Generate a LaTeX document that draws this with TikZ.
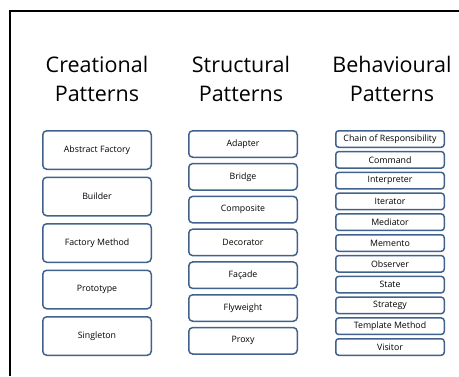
\documentclass[tikz,border=0pt]{standalone}
\usepackage{fontspec}
\setmainfont{Open Sans}
\usetikzlibrary{positioning}
\definecolor{boxblue}{RGB}{65,98,140}

\begin{document}
\begin{tikzpicture}[
      x=1pt, y=-1pt,
      title/.style={align=center, font=\fontsize{21.5}{29}\selectfont, inner sep=0pt},
      pattern/.style={draw=boxblue, line width=1.5pt, rounded corners=4pt, fill=white,
        minimum width=108.5pt, inner sep=0pt, font=\fontsize{8.8}{10}\selectfont},
      creational/.style={pattern, minimum height=38.5pt},
      structural/.style={pattern, minimum height=26.5pt},
      behavioural/.style={pattern, minimum height=16.5pt, rounded corners=3pt},
    ]
      \useasboundingbox (0,0) rectangle (459,376);
      \draw[line width=2pt] (10,376) -- (10,11) -- (459,11);

      % titles
      \node[title] (creat) at (97,79) {Creational\\Patterns};
      \node[title] (struct) at (241,79) {Structural\\Patterns};
      \node[title] (behav) at (392,79) {Behavioural\\Patterns};

      % creational column
      \node[creational] (abstract) at (97,150) {Abstract Factory};
      \node[creational, below=6.5pt of abstract] (builder) {Builder};
      \node[creational, below=6.5pt of builder] (factory) {Factory Method};
      \node[creational, below=6.5pt of factory] (prototype) {Prototype};
      \node[creational, below=6.5pt of prototype] (singleton) {Singleton};

      % structural column
      \node[structural] (adapter) at (243,144) {Adapter};
      \node[structural, below=4.8pt of adapter] (bridge) {Bridge};
      \node[structural, below=4.8pt of bridge] (composite) {Composite};
      \node[structural, below=4.8pt of composite] (decorator) {Decorator};
      \node[structural, below=4.8pt of decorator] (facade) {Façade};
      \node[structural, below=4.8pt of facade] (flyweight) {Flyweight};
      \node[structural, below=4.8pt of flyweight] (proxy) {Proxy};

      % behavioural column
      \node[behavioural] (chain) at (390,139) {Chain of Responsibility};
      \node[behavioural, below=2.8pt of chain] (command) {Command};
      \node[behavioural, below=2.8pt of command] (interpreter) {Interpreter};
      \node[behavioural, below=2.8pt of interpreter] (iterator) {Iterator};
      \node[behavioural, below=2.8pt of iterator] (mediator) {Mediator};
      \node[behavioural, below=2.8pt of mediator] (memento) {Memento};
      \node[behavioural, below=2.8pt of memento] (observer) {Observer};
      \node[behavioural, below=2.8pt of observer] (state) {State};
      \node[behavioural, below=2.8pt of state] (strategy) {Strategy};
      \node[behavioural, below=2.8pt of strategy] (template) {Template Method};
      \node[behavioural, below=2.8pt of template] (visitor) {Visitor};
    \end{tikzpicture}
\end{document}
